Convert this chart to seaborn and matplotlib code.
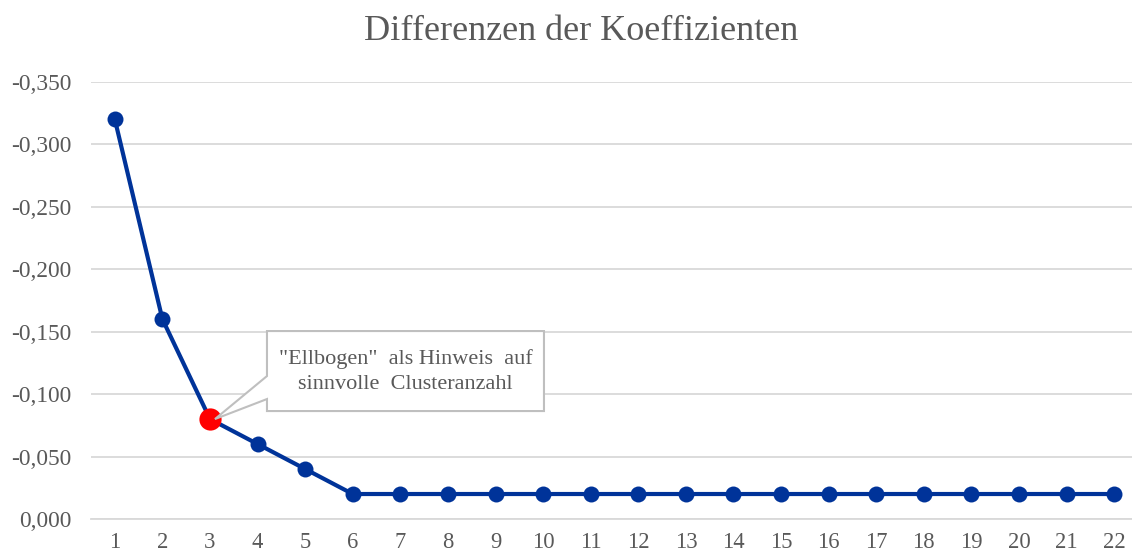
import numpy as np
import pandas as pd
import seaborn as sns
import matplotlib
matplotlib.use("Agg")
import matplotlib.pyplot as plt
from matplotlib.patches import Polygon
from matplotlib.transforms import Affine2D
from matplotlib.ticker import FuncFormatter

# Data
clusters = list(range(1, 23))
differences = [-0.32, -0.16, -0.08, -0.06, -0.04] + [-0.02] * 17
elbow_cluster = 3
y_ticks = [0.0, -0.05, -0.10, -0.15, -0.20, -0.25, -0.30, -0.35]
title = "Differenzen der Koeffizienten"
callout_lines = ['"Ellbogen"  als Hinweis  auf', 'sinnvolle  Clusteranzahl']

df = pd.DataFrame({"Cluster": clusters, "Differenz": differences})

sns.set_theme(style="white")
plt.rcParams['font.family'] = ['Liberation Serif', 'DejaVu Serif']

W, H, DPI = 1132, 554, 100
fig = plt.figure(figsize=(W / DPI, H / DPI), dpi=DPI)
ax = fig.add_axes([91 / W, (H - 519) / H, (1138 - 91) / W, (519 - 81.7) / H])

line_color = "#003399"
text_color = "#595959"

sns.lineplot(data=df, x="Cluster", y="Differenz", ax=ax, color=line_color,
             linewidth=3, marker="o", markersize=11.5, markeredgewidth=0,
             zorder=3)

elbow_val = differences[clusters.index(elbow_cluster)]
ax.plot([elbow_cluster], [elbow_val], marker="o", markersize=16,
        color="#ff0000", markeredgewidth=0, zorder=4, linestyle="none")

ax.set_xlim(0.5, 22.5)
ax.set_ylim(0, -0.35)
ax.set_yticks(y_ticks)
ax.set_xticks(clusters)
ax.yaxis.set_major_formatter(FuncFormatter(lambda v, p: f"{v:.3f}".replace(".", ",").replace("-0,000", "0,000")))
ax.grid(axis="y", color="#d9d9d9", linewidth=1.3)
ax.set_axisbelow(True)
for s in ["left", "right", "top"]:
    ax.spines[s].set_visible(False)
ax.spines["bottom"].set_color("#d9d9d9")
ax.spines["bottom"].set_linewidth(1.3)
ax.tick_params(axis="both", length=0, labelsize=16.8, labelcolor=text_color)
ax.tick_params(axis="y", pad=14)
ax.tick_params(axis="x", pad=9, labelsize=16.3)
ax.set_xlabel("")
ax.set_ylabel("")

fig.text(581 / W, 1 - 31 / H, title, ha="center", va="center",
         fontsize=26, color=text_color)

# Callout anchored at the elbow point (pixel offsets)
fig.canvas.draw()
px, py = ax.transData.transform((elbow_cluster, elbow_val))
verts = [
    (57, 88), (334, 88), (334, 8), (57, 8),
    (57, 20), (5, 0), (57, 43),
]
poly = Polygon(verts, closed=True, facecolor="white", edgecolor="#bfbfbf",
               linewidth=1.5, transform=Affine2D().translate(px, py),
               zorder=5, clip_on=False)
ax.add_patch(poly)
cx = (57 + 334) / 2
for i, line in enumerate(callout_lines):
    ax.text(px + cx, py + 60 - i * 25, line, transform=None, ha="center",
            va="center", fontsize=16, color=text_color, zorder=6)

fig.savefig("out.png", dpi=DPI)
